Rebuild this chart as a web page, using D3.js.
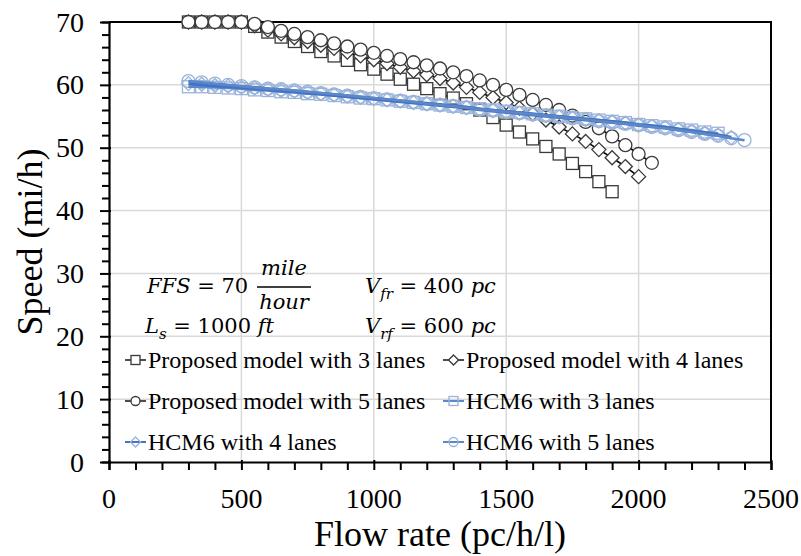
<!DOCTYPE html>
<html>
<head>
<meta charset="utf-8">
<script src="https://cdn.jsdelivr.net/npm/d3@7.9.0/dist/d3.min.js"></script>
<style>
  body { margin: 0; background: #fff; }
  svg { display: block; }
  svg text { font-family: "Liberation Serif", "Times New Roman", serif; }
</style>
</head>
<body>
<div id="chart"></div>
<script>
// --- Data ---
const flowProp3 = d3.range(300, 1901, 50);
const flowProp4 = d3.range(300, 2001, 50);
const flowProp5 = d3.range(300, 2051, 50);
const flowHcm3 = d3.range(300, 2301, 50);
const flowHcm4 = d3.range(300, 2351, 50);
const flowHcm5 = d3.range(300, 2401, 50);

const speedProp3 = [70, 70, 70, 70, 70, 69.3, 68.4, 67.6, 66.9, 66.1, 65.3, 64.6, 63.9, 63.2, 62.5,
  61.7, 60.9, 60.1, 59.4, 58.6, 57.9, 57.0, 56.0, 54.8, 53.6, 52.5, 51.4, 50.2, 49.0, 47.5, 46.2, 44.6, 43.0];
const speedProp4 = [70, 70, 70, 70, 70, 69.4, 68.7, 68.1, 67.5, 66.9, 66.3, 65.8, 65.2, 64.6, 64.0,
  63.4, 62.8, 62.2, 61.6, 61.0, 60.3, 59.6, 58.8, 58.0, 57.2, 56.3, 55.4, 54.4, 53.3, 52.2, 51.0, 49.7,
  48.4, 47.0, 45.4];
const speedProp5 = [70, 70, 70, 70, 70, 69.7, 69.2, 68.6, 68.1, 67.6, 67.1, 66.6, 66.1, 65.6, 65.1,
  64.6, 64.1, 63.6, 63.1, 62.6, 62.0, 61.4, 60.7, 60.0, 59.2, 58.4, 57.6, 56.8, 56.0, 55.1, 54.1, 53.1,
  51.8, 50.4, 49.0, 47.6];
const speedHcm3 = [59.7, 59.7, 59.6, 59.5, 59.4, 59.2, 59.1, 58.9, 58.8, 58.6, 58.5, 58.3, 58.1, 57.9,
  57.8, 57.6, 57.4, 57.2, 57.0, 56.8, 56.6, 56.4, 56.2, 56.0, 55.8, 55.6, 55.4, 55.2, 55.0, 54.8, 54.6,
  54.4, 54.2, 54.0, 53.7, 53.5, 53.3, 53.0, 52.8, 52.5, 52.3];
const speedHcm4 = [60.2, 60.1, 59.9, 59.8, 59.6, 59.5, 59.3, 59.1, 59.0, 58.8, 58.6, 58.4, 58.2, 58.0,
  57.8, 57.6, 57.4, 57.2, 57.0, 56.8, 56.6, 56.4, 56.1, 55.9, 55.7, 55.5, 55.3, 55.1, 54.9, 54.7, 54.5,
  54.3, 54.1, 53.9, 53.6, 53.4, 53.2, 52.9, 52.6, 52.3, 52.0, 51.6];
const speedHcm5 = [60.6, 60.4, 60.2, 60.0, 59.8, 59.6, 59.4, 59.3, 59.1, 58.9, 58.7, 58.5, 58.3, 58.1,
  57.9, 57.7, 57.5, 57.3, 57.0, 56.8, 56.6, 56.4, 56.1, 55.9, 55.7, 55.5, 55.3, 55.1, 54.9, 54.7, 54.5,
  54.2, 54.0, 53.8, 53.6, 53.3, 53.1, 52.8, 52.5, 52.2, 51.9, 51.5, 51.2];

const xTicks = [0, 500, 1000, 1500, 2000, 2500];
const yTicks = [0, 10, 20, 30, 40, 50, 60, 70];

const seriesNames = ['Proposed model with 3 lanes', 'Proposed model with 4 lanes',
  'Proposed model with 5 lanes', 'HCM6 with 3 lanes', 'HCM6 with 4 lanes', 'HCM6 with 5 lanes'];

// Build series table
const series = [
  { name: seriesNames[0], flows: flowProp3, speeds: speedProp3, shape: 'square', line: '#000', mark: '#3a3a3a' },
  { name: seriesNames[1], flows: flowProp4, speeds: speedProp4, shape: 'diamond', line: '#000', mark: '#3a3a3a' },
  { name: seriesNames[2], flows: flowProp5, speeds: speedProp5, shape: 'circle', line: '#000', mark: '#3a3a3a' },
  { name: seriesNames[3], flows: flowHcm3, speeds: speedHcm3, shape: 'square', line: '#5b88c9', mark: '#9ab3da' },
  { name: seriesNames[4], flows: flowHcm4, speeds: speedHcm4, shape: 'diamond', line: '#4472c4', mark: '#9ab3da' },
  { name: seriesNames[5], flows: flowHcm5, speeds: speedHcm5, shape: 'circle', line: '#5b88c9', mark: '#9ab3da' },
].map((s) => ({ ...s, points: s.flows.map((f, i) => ({ flow: f, speed: s.speeds[i] })) }));

// --- Layout ---
const width = 801;
const height = 556;
const plot = { left: 109, right: 771, top: 22, bottom: 462 };

const svg = d3.select('#chart').append('svg')
  .attr('width', width)
  .attr('height', height);

const x = d3.scaleLinear().domain([0, 2500]).range([plot.left, plot.right]);
const y = d3.scaleLinear().domain([0, 70]).range([plot.bottom, plot.top]);

// Gridlines
svg.append('g')
  .selectAll('line')
  .data(xTicks.slice(1, -1))
  .join('line')
  .attr('x1', (d) => x(d)).attr('x2', (d) => x(d))
  .attr('y1', plot.top).attr('y2', plot.bottom)
  .attr('stroke', '#d9d9d9').attr('stroke-width', 1.5);

svg.append('g')
  .selectAll('line')
  .data(yTicks.slice(1, -1))
  .join('line')
  .attr('x1', plot.left).attr('x2', plot.right)
  .attr('y1', (d) => y(d)).attr('y2', (d) => y(d))
  .attr('stroke', '#d9d9d9').attr('stroke-width', 1.5);

// Frame (top + right)
svg.append('path')
  .attr('d', `M${plot.left},${plot.top}H${plot.right}V${plot.bottom}`)
  .attr('fill', 'none').attr('stroke', '#000').attr('stroke-width', 2);

// Axes
const xAxis = d3.axisBottom(x).tickValues(d3.range(0, 2501, 100)).tickSize(8).tickFormat('');
const yAxis = d3.axisLeft(y).tickValues(d3.range(0, 71, 2)).tickSize(7).tickFormat('');

const gx = svg.append('g').attr('transform', `translate(0,${plot.bottom})`).call(xAxis);
const gy = svg.append('g').attr('transform', `translate(${plot.left},0)`).call(yAxis);
[gx, gy].forEach((g) => {
  g.select('.domain').attr('stroke', '#000').attr('stroke-width', 2.2);
  g.selectAll('.tick line').attr('stroke', '#000').attr('stroke-width', 2);
});
gy.selectAll('.tick line').filter((d) => d % 10 === 0).attr('x1', 2).attr('x2', -9);
gx.selectAll('.tick line').filter((d) => d % 500 === 0).attr('y1', -2);

// Tick labels
svg.append('g')
  .selectAll('text')
  .data(xTicks)
  .join('text')
  .attr('x', (d) => x(d))
  .attr('y', 508)
  .attr('text-anchor', 'middle')
  .attr('font-size', 28)
  .text((d) => d);

svg.append('g')
  .selectAll('text')
  .data(yTicks)
  .join('text')
  .attr('x', 84)
  .attr('y', (d) => y(d) + 9.5)
  .attr('text-anchor', 'end')
  .attr('font-size', 28)
  .text((d) => d);

// Axis titles
svg.append('text')
  .attr('x', 440).attr('y', 546)
  .attr('text-anchor', 'middle')
  .attr('font-size', 36)
  .text('Flow rate (pc/h/l)');

svg.append('text')
  .attr('transform', `translate(42,${(plot.top + plot.bottom) / 2}) rotate(-90)`)
  .attr('text-anchor', 'middle')
  .attr('font-size', 36)
  .text('Speed (mi/h)');

// Marker drawing helper
function drawMarker(sel, shape, size, stroke, fill) {
  if (shape === 'circle') {
    sel.append('circle').attr('r', size / 2);
  } else if (shape === 'square') {
    sel.append('rect').attr('x', -size / 2).attr('y', -size / 2)
      .attr('width', size).attr('height', size);
  } else {
    const h = size * 0.5;
    sel.append('path').attr('d', `M0,${-h}L${h},0L0,${h}L${-h},0Z`);
  }
  sel.selectAll('circle, rect, path')
    .attr('fill', fill).attr('stroke', stroke).attr('stroke-width', 1.3);
}

const line = d3.line().x((d) => x(d.flow)).y((d) => y(d.speed));
const markerSize = { circle: 13, square: 12, diamond: 14 };

function drawLine(s, w) {
  svg.append('path')
    .datum(s.points)
    .attr('d', line)
    .attr('fill', 'none')
    .attr('stroke', s.line)
    .attr('stroke-width', w);
}

function drawMarkers(s, fill) {
  svg.append('g').selectAll('g')
    .data(s.points)
    .join('g')
    .attr('transform', (d) => `translate(${x(d.flow)},${y(d.speed)})`)
    .each(function () {
      drawMarker(d3.select(this), s.shape, markerSize[s.shape], s.mark, fill);
    });
}

// Proposed model: line + markers per series
series.slice(0, 3).forEach((s) => {
  drawLine(s, 1.6);
  drawMarkers(s, '#fff');
});

// HCM6: markers below, lines on top
series.slice(3).forEach((s) => drawMarkers(s, 'none'));
series.slice(3).forEach((s, i) => drawLine(s, i === 1 ? 4 : 2.6));

// Legend
const legendRows = [360, 401, 442];
const legendCols = [125, 443];
series.forEach((s, i) => {
  const col = i % 2;
  const row = Math.floor(i / 2);
  const lx = legendCols[col];
  const ly = legendRows[row];
  const g = svg.append('g');
  g.append('line')
    .attr('x1', lx).attr('x2', lx + 21)
    .attr('y1', ly).attr('y2', ly)
    .attr('stroke', s.line).attr('stroke-width', i >= 3 ? 2 : 1.4);
  const m = g.append('g').attr('transform', `translate(${lx + 10.5},${ly})`);
  drawMarker(m, s.shape, s.shape === 'diamond' ? 10 : 9, s.mark, i >= 3 ? 'none' : '#fff');
  g.append('text')
    .attr('x', lx + 23)
    .attr('y', ly + 8)
    .attr('font-size', 24)
    .text(s.name);
});

// Parameter annotation (math style)
const ann = svg.append('g');

function mathText(xPos, yPos, parts) {
  const t = ann.append('text').attr('x', xPos).attr('y', yPos)
    .style('font-family', '"DejaVu Serif", serif').attr('font-size', 21);
  parts.forEach((p) => {
    const ts = t.append('tspan').text(p.t);
    if (p.i) ts.attr('font-style', 'italic');
    if (p.sub) ts.attr('font-size', 15).attr('dy', 6);
    if (p.up) ts.attr('dy', -6);
  });
  return t;
}

mathText(147, 293, [{ t: 'FFS', i: true }, { t: ' = 70' }]);
mathText(284, 275, [{ t: 'mile', i: true }]).attr('text-anchor', 'middle');
ann.append('line').attr('x1', 257).attr('x2', 311).attr('y1', 287).attr('y2', 287)
  .attr('stroke', '#000').attr('stroke-width', 1.5);
mathText(284, 309, [{ t: 'hour', i: true }]).attr('text-anchor', 'middle');

mathText(365, 293, [{ t: 'V', i: true }, { t: 'fr', i: true, sub: true }, { t: ' = 400 ', up: true }, { t: 'pc', i: true }]);
mathText(145, 333, [{ t: 'L', i: true }, { t: 's', i: true, sub: true }, { t: ' = 1000 ', up: true }, { t: 'ft', i: true }]);
mathText(365, 333, [{ t: 'V', i: true }, { t: 'rf', i: true, sub: true }, { t: ' = 600 ', up: true }, { t: 'pc', i: true }]);
</script>
</body>
</html>
